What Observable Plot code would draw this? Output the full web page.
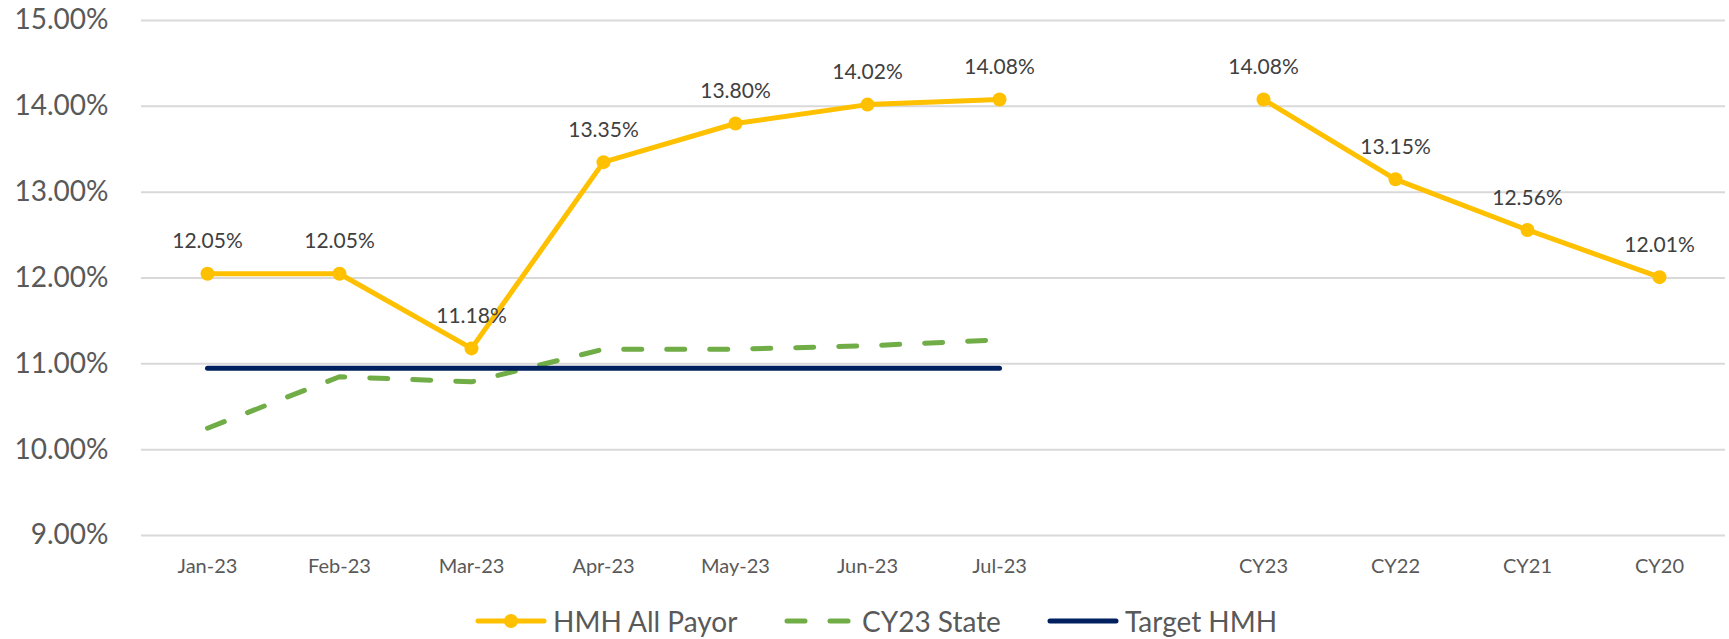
<!DOCTYPE html>
<html>
<head>
<meta charset="utf-8">
<script src="https://cdn.jsdelivr.net/npm/d3@7"></script>
<script src="https://cdn.jsdelivr.net/npm/@observablehq/plot@0.6"></script>
<style>
  html, body { margin: 0; padding: 0; background: #fff; }
  #wrap { position: relative; width: 1729px; height: 639px; font-family: Lato, "Open Sans", sans-serif; }
  #legend { position: absolute; left: 0; top: 601px; width: 1729px; height: 39px; }
  .lg-item { position: absolute; top: 0; height: 39px; display: flex; align-items: center; }
  .lg-item span { font-size: 28px; color: #595959; margin-left: 6px; white-space: nowrap; }
</style>
</head>
<body>
<div id="wrap">
  <div id="chart"></div>
  <div id="legend"></div>
</div>
<script>
// ---- Data ----
const categories = ["Jan-23", "Feb-23", "Mar-23", "Apr-23", "May-23", "Jun-23", "Jul-23", "", "CY23", "CY22", "CY21", "CY20"];
const hmhAllPayor = [12.05, 12.05, 11.18, 13.35, 13.80, 14.02, 14.08, null, 14.08, 13.15, 12.56, 12.01];
const stateCategories = ["Jan-23", "Feb-23", "Mar-23", "Apr-23", "May-23", "Jun-23", "Jul-23"];
const cy23State = [10.25, 10.85, 10.79, 11.17, 11.17, 11.21, 11.28];
const targetHmh = [10.95, 10.95, 10.95, 10.95, 10.95, 10.95, 10.95];
const yTicks = [9, 10, 11, 12, 13, 14, 15];
const seriesNames = ["HMH All Payor", "CY23 State", "Target HMH"];
const seriesColors = ["#FFC000", "#70AD47", "#002060"];

const hmhData = categories.map((c, i) => ({cat: c, v: hmhAllPayor[i]}));
const stateData = stateCategories.map((c, i) => ({cat: c, v: cy23State[i]}));
const targetData = stateCategories.map((c, i) => ({cat: c, v: targetHmh[i]}));
const hmhPoints = hmhData.filter(d => d.v != null);

const font = "Lato, 'Open Sans', sans-serif";

const chart = Plot.plot({
  width: 1729,
  height: 600,
  marginLeft: 141,
  marginRight: 4,
  marginTop: 20,
  marginBottom: 65,
  style: {fontFamily: font, background: "#fff"},
  x: {type: "point", domain: categories, padding: 0.5, label: null},
  y: {domain: [9, 15], label: null},
  marks: [
    Plot.gridY(yTicks, {stroke: "#D9D9D9", strokeOpacity: 1, strokeWidth: 2}),
    Plot.axisY(yTicks, {tickSize: 0, tickPadding: 33, fontSize: 28, fill: "#595959",
      tickFormat: d => d.toFixed(2) + "%", label: null}),
    Plot.axisX(categories.filter(c => c !== ""), {tickSize: 0, tickPadding: 23, fontSize: 20, fill: "#595959", label: null}),
    Plot.line(hmhData, {x: "cat", y: "v", stroke: seriesColors[0], strokeWidth: 5, strokeLinejoin: "round", strokeLinecap: "round"}),
    Plot.line(stateData, {x: "cat", y: "v", stroke: seriesColors[1], strokeWidth: 5, strokeDasharray: "18,25", strokeLinecap: "round", strokeLinejoin: "round"}),
    Plot.line(targetData, {x: "cat", y: "v", stroke: seriesColors[2], strokeWidth: 5, strokeLinecap: "round"}),
    Plot.dot(hmhPoints, {x: "cat", y: "v", r: 7, fill: seriesColors[0], stroke: null}),
    Plot.text(hmhPoints, {x: "cat", y: "v", text: d => d.v.toFixed(2) + "%", dy: -32, fontSize: 21, fill: "#404040"})
  ]
});
document.getElementById("chart").appendChild(chart);

// ---- Legend ----
const legend = document.getElementById("legend");
const lgLeft = [475, 784, 1047];
const swatches = [
  `<svg width="72" height="16"><line x1="3" y1="8" x2="69" y2="8" stroke="${seriesColors[0]}" stroke-width="5" stroke-linecap="round"/><circle cx="36" cy="8" r="7" fill="${seriesColors[0]}"/></svg>`,
  `<svg width="72" height="16"><line x1="3" y1="8" x2="69" y2="8" stroke="${seriesColors[1]}" stroke-width="5" stroke-linecap="round" stroke-dasharray="18,25"/></svg>`,
  `<svg width="72" height="16"><line x1="3" y1="8" x2="69" y2="8" stroke="${seriesColors[2]}" stroke-width="5" stroke-linecap="round"/></svg>`
];
seriesNames.forEach((name, i) => {
  const item = document.createElement("div");
  item.className = "lg-item";
  item.style.left = lgLeft[i] + "px";
  item.innerHTML = swatches[i] + `<span>${name}</span>`;
  legend.appendChild(item);
});
</script>
</body>
</html>
